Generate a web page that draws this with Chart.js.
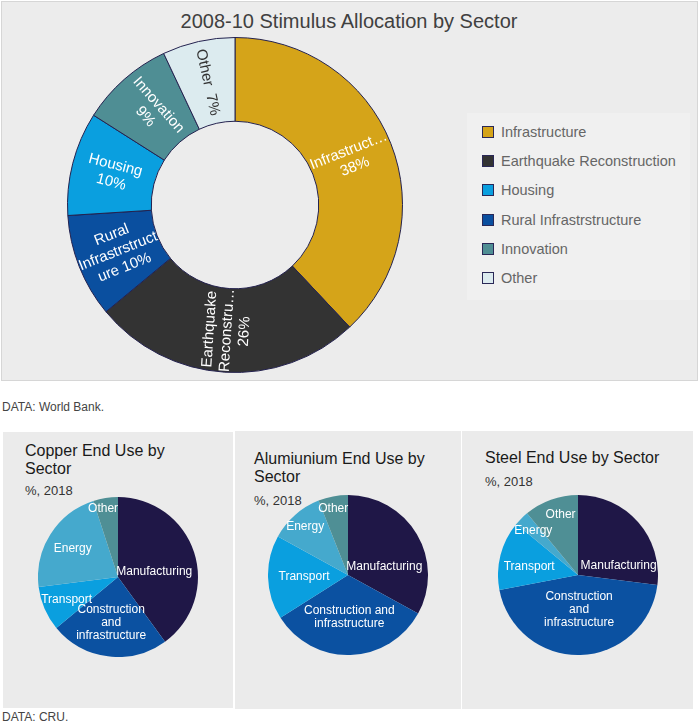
<!DOCTYPE html>
<html>
<head>
<meta charset="utf-8">
<script src="https://cdn.jsdelivr.net/npm/chart.js@4.4.0/dist/chart.umd.min.js"></script>
<style>
  body { margin: 0; width: 698px; height: 724px; background: #fff; position: relative; overflow: hidden;
         font-family: "Liberation Sans", Arial, sans-serif; }
  .abs { position: absolute; }
  #topPanel { left: 1px; top: 1px; width: 695px; height: 378px; background: #ececec; border: 1px solid #d6d6d6; }
  #mainTitle { left: 0; top: 9px; width: 698px; text-align: center; font-size: 20px; line-height: 24px; color: #404040; }
  #legendBox { left: 467px; top: 113px; width: 223px; height: 187px; background: #f0f0f0; }
  .legendRow { position: absolute; left: 15px; height: 20px; line-height: 20px; font-size: 14.5px; color: #666; white-space: nowrap; }
  .legendRow span { position: absolute; left: 0; top: 4px; width: 12px; height: 12px; box-sizing: border-box; border: 1px solid #2a2857; }
  .legendRow b { font-weight: normal; position: absolute; left: 19px; top: 0; }
  .note { left: 2px; font-size: 12px; line-height: 14px; color: #444; }
  .panel { background: #ebebeb; }
  .pTitle { font-size: 16px; line-height: 18px; color: #1a1a1a; white-space: nowrap; }
  .pSub { font-size: 13px; line-height: 16px; color: #333; }
</style>
</head>
<body>
<div id="topPanel" class="abs"></div>
<div id="mainTitle" class="abs">2008-10 Stimulus Allocation by Sector</div>
<canvas id="stimulusChart" class="abs" width="336" height="336" style="left:67px;top:37px;"></canvas>
<div id="legendBox" class="abs"></div>
<div class="abs note" style="top:400px;">DATA: World Bank.</div>

<div class="abs panel" style="left:3px;top:432px;width:230px;height:276px;"></div>
<div class="abs panel" style="left:235px;top:431px;width:226px;height:278px;"></div>
<div class="abs panel" style="left:462px;top:431px;width:231px;height:278px;"></div>

<div class="abs pTitle" style="left:25px;top:442px;">Copper End Use by<br>Sector</div>
<div class="abs pSub" style="left:25px;top:483px;">%, 2018</div>
<div class="abs pTitle" style="left:254px;top:450px;">Alumiunium End Use by<br>Sector</div>
<div class="abs pSub" style="left:254px;top:493px;">%, 2018</div>
<div class="abs pTitle" style="left:485px;top:449px;">Steel End Use by Sector</div>
<div class="abs pSub" style="left:485px;top:474px;">%, 2018</div>

<canvas id="copperChart" class="abs" width="160" height="160" style="left:38px;top:497px;"></canvas>
<canvas id="aluminiumChart" class="abs" width="160" height="160" style="left:268px;top:495px;"></canvas>
<canvas id="steelChart" class="abs" width="160" height="160" style="left:498px;top:495px;"></canvas>

<div class="abs note" style="top:710px;">DATA: CRU.</div>

<script>
// Stimulus doughnut, in drawing order (clockwise from 12 o'clock)
var stimulusSectors = ['Infrastructure', 'Earthquake Reconstruction', 'Rural Infrastrstructure', 'Housing', 'Innovation', 'Other'];
var stimulusShares = [38, 26, 10, 10, 9, 7];
// the legend lists them in a different order
var legendOrder = ['Infrastructure', 'Earthquake Reconstruction', 'Housing', 'Rural Infrastrstructure', 'Innovation', 'Other'];
// wrapped captions inside the ring, the value is appended to the last line
var stimulusCaptions = [['Infrastruct…', ''], ['Earthquake', 'Reconstru…', ''], ['Rural', 'Infrastrstruct', 'ure '], ['Housing', ''], ['Innovation', ''], ['Other  ']];

// End use pies (CRU, 2018)
var endUseSectors = ['Manufacturing', 'Construction and infrastructure', 'Transport', 'Energy', 'Other'];
var copperShares = [40, 24, 9, 22, 5];
var aluminiumShares = [33, 33, 17, 11, 6];
var steelShares = [27, 45, 14, 3, 11];

var stimulusColors = ['#d5a419', '#333333', '#0a4f9f', '#0a9fdf', '#4f8e94', '#dcebef'];
var endUseColors = ['#1f1747', '#0b51a1', '#0a9fdf', '#45a9cd', '#4f8f95'];

var FONT = '"Liberation Sans", Arial, sans-serif';

// legend (html, so it can sit in its own box)
var box = document.getElementById('legendBox');
legendOrder.forEach(function (name, i) {
    var row = document.createElement('div');
    row.className = 'legendRow';
    row.style.top = (9 + i * 29.2) + 'px';
    var sw = document.createElement('span');
    sw.style.background = stimulusColors[stimulusSectors.indexOf(name)];
    var tx = document.createElement('b');
    tx.textContent = name;
    row.appendChild(sw);
    row.appendChild(tx);
    box.appendChild(row);
});

// rotated captions along the radius of each ring segment
var ringCaptions = {
    id: 'ringCaptions',
    afterDatasetsDraw: function (chart) {
        var ctx = chart.ctx;
        var values = chart.data.datasets[0].data;
        var colors = chart.data.datasets[0].backgroundColor;
        ctx.save();
        ctx.font = '15px ' + FONT;
        ctx.textAlign = 'center';
        ctx.textBaseline = 'middle';
        chart.getDatasetMeta(0).data.forEach(function (arc, i) {
            var p = arc.getProps(['x', 'y', 'startAngle', 'endAngle', 'innerRadius', 'outerRadius'], true);
            var mid = (p.startAngle + p.endAngle) / 2;
            var r = (p.innerRadius + p.outerRadius) / 2;
            var rot = mid;
            if (Math.cos(rot) < 0) rot += Math.PI;
            var lines = stimulusCaptions[i].slice();
            lines[lines.length - 1] += values[i] + '%';
            ctx.save();
            ctx.translate(p.x + Math.cos(mid) * r, p.y + Math.sin(mid) * r);
            ctx.rotate(rot);
            ctx.fillStyle = colors[i] === '#dcebef' ? '#333' : '#fff';
            lines.forEach(function (t, k) {
                ctx.fillText(t, 0, (k - (lines.length - 1) / 2) * 17.5);
            });
            ctx.restore();
        });
        ctx.restore();
    }
};

new Chart(document.getElementById('stimulusChart'), {
    type: 'doughnut',
    data: {
        labels: stimulusSectors,
        datasets: [{
            data: stimulusShares,
            backgroundColor: stimulusColors,
            borderColor: '#24224f',
            borderWidth: 1
        }]
    },
    options: {
        responsive: false,
        animation: false,
        cutout: '50%',
        layout: { padding: 0 },
        plugins: { legend: { display: false }, tooltip: { enabled: false } }
    },
    plugins: [ringCaptions]
});

// pie captions: placed on the slice's mid angle at a fraction of the radius, plus a small nudge
var pieCaptions = {
    id: 'pieCaptions',
    afterDatasetsDraw: function (chart, args, opts) {
        var ctx = chart.ctx;
        ctx.save();
        ctx.font = '12px ' + FONT;
        ctx.fillStyle = '#fff';
        ctx.textAlign = 'center';
        ctx.textBaseline = 'middle';
        chart.getDatasetMeta(0).data.forEach(function (arc, i) {
            var p = arc.getProps(['x', 'y', 'startAngle', 'endAngle', 'outerRadius'], true);
            var mid = (p.startAngle + p.endAngle) / 2;
            var r = opts.reach[i] * p.outerRadius;
            var nx = opts.nudge[i][0], ny = opts.nudge[i][1];
            var cx = p.x + Math.cos(mid) * r + nx;
            var cy = p.y + Math.sin(mid) * r + ny;
            var lines = opts.lines[i];
            lines.forEach(function (t, k) {
                ctx.fillText(t, cx, cy + (k - (lines.length - 1) / 2) * 13);
            });
        });
        ctx.restore();
    }
};

function endUsePie(id, shares, captions) {
    return new Chart(document.getElementById(id), {
        type: 'pie',
        data: {
            labels: endUseSectors,
            datasets: [{ data: shares, backgroundColor: endUseColors, borderWidth: 0 }]
        },
        options: {
            responsive: false,
            animation: false,
            layout: { padding: 0 },
            plugins: { legend: { display: false }, tooltip: { enabled: false }, pieCaptions: captions }
        },
        plugins: [pieCaptions]
    });
}

endUsePie('copperChart', copperShares, {
    lines: [['Manufacturing'], ['Construction', 'and', 'infrastructure'], ['Transport'], ['Energy'], ['Other']],
    reach: [0.45, 0.58, 0.70, 0.67, 0.87],
    nudge: [[2, 6], [-1, 0], [0, 0], [0, 0], [-4, 0]]
});
endUsePie('aluminiumChart', aluminiumShares, {
    lines: [['Manufacturing'], ['Construction and', 'infrastructure'], ['Transport'], ['Energy'], ['Other']],
    reach: [0.44, 0.53, 0.55, 0.81, 0.85],
    nudge: [[6, 10], [0, 0], [0, 0], [0, 0], [-2, 0]]
});
endUsePie('steelChart', steelShares, {
    lines: [['Manufacturing'], ['Construction', 'and', 'infrastructure'], ['Transport'], ['Energy'], ['Other']],
    reach: [0.46, 0.43, 0.63, 0.79, 0.79],
    nudge: [[13, 15], [0, 0], [0, 4], [0, 0], [4, -1]]
});
</script>
</body>
</html>
